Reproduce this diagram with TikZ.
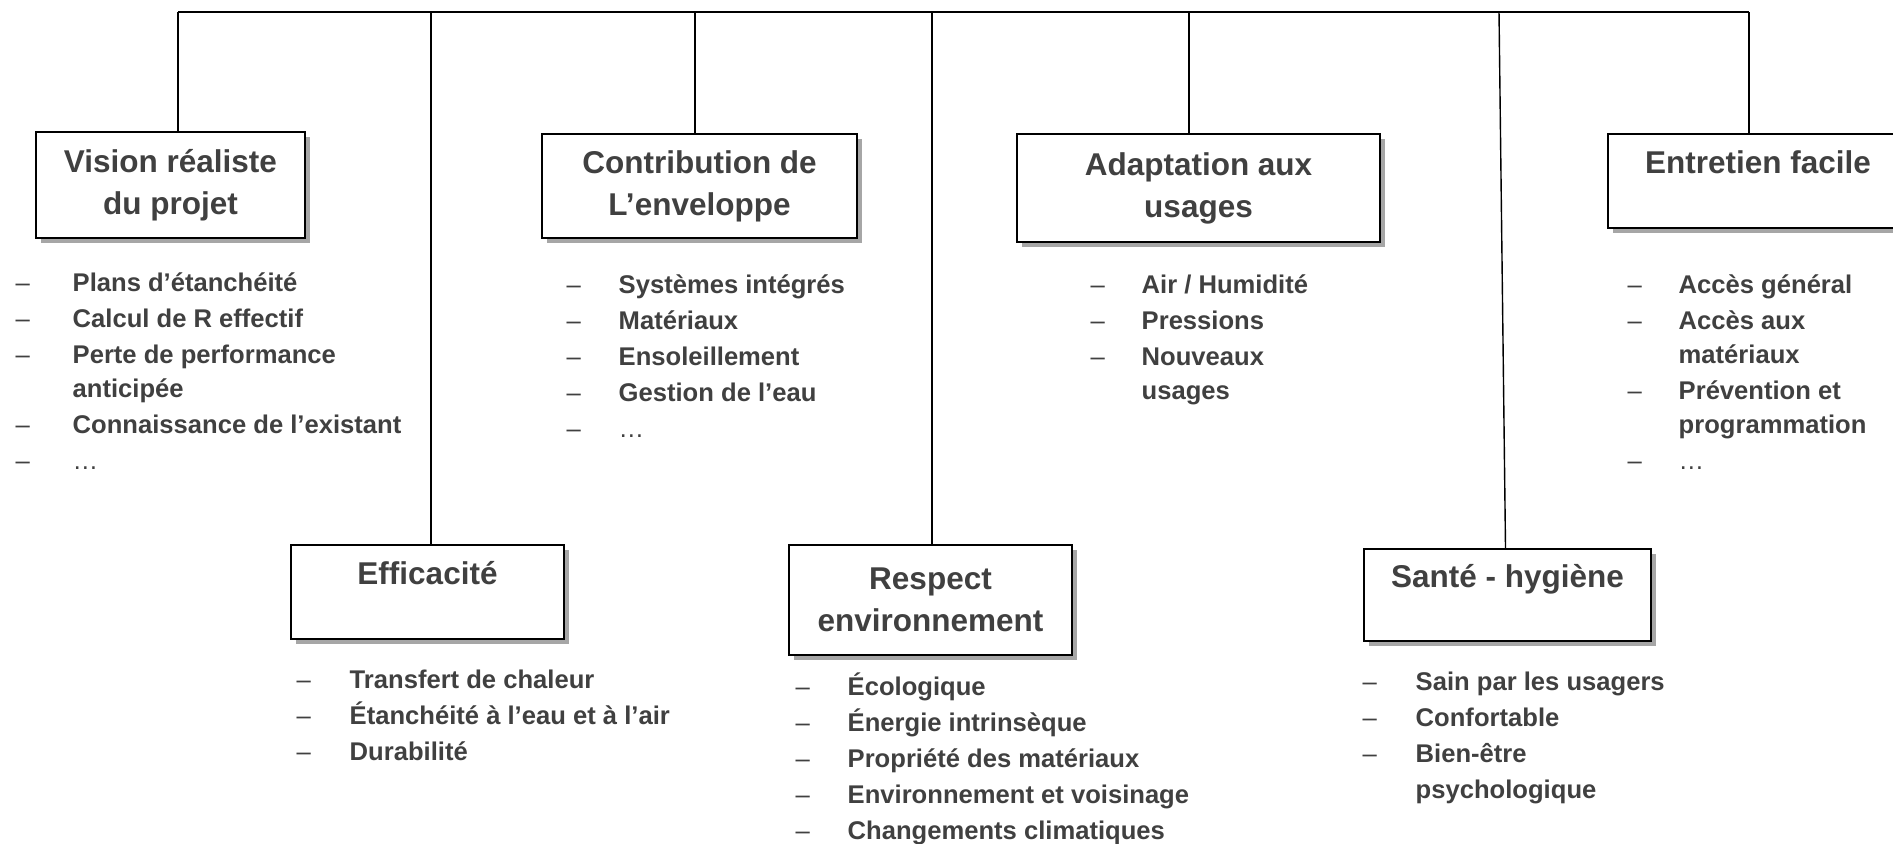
\documentclass[tikz,border=0pt]{standalone}
\usepackage{fontspec}
\setmainfont{Liberation Sans}
\usetikzlibrary{shadows}
\definecolor{txtgray}{HTML}{404040}
\newcommand{\tiret}{{\mdseries –}}

\begin{document}
\begin{tikzpicture}[
    x=0.5pt, y=-0.5pt,
    line width=0.7pt,
    box/.style={
      rectangle, draw=black, line width=1pt, fill=white,
      anchor=north west, inner sep=0pt, align=center,
      font=\fontsize{15.75}{21}\selectfont\bfseries, text=txtgray,
      drop shadow={shadow xshift=2.5pt, shadow yshift=-2.5pt,
        fill=gray!70, opacity=1},
    },
    lst/.style={anchor=base west, inner sep=0pt, text=txtgray,
      font=\fontsize{12.8}{18}\selectfont\bfseries},
  ]
  \useasboundingbox (0,0) rectangle (1893,843);
  \clip (0,0) rectangle (1893,843);

  \node[box, minimum width=134.5pt, minimum height=53pt] (vision) at (35,131)
    {Vision réaliste\\du projet};
  \node[box, minimum width=157.5pt, minimum height=52pt] (enveloppe) at (541,133)
    {Contribution de\\L’enveloppe};
  \node[box, minimum width=181.5pt, minimum height=54pt] (usages) at (1016,133)
    {Adaptation aux\\usages};
  \node[box, minimum width=150pt, minimum height=47pt] (entretien) at (1607,133)
    {Entretien facile\\[-2pt]~};
  \node[box, minimum width=136.5pt, minimum height=47pt] (efficacite) at (290,544)
    {Efficacité\\[-2pt]~};
  \node[box, minimum width=141.5pt, minimum height=55pt] (respect) at (788,544)
    {Respect\\environnement};
  \node[box, minimum width=143.5pt, minimum height=46pt] (sante) at (1363,548)
    {Santé - hygiène\\[-2pt]~};

  \coordinate (b1) at (178,12);
  \coordinate (b2) at (431,12);
  \coordinate (b3) at (695,12);
  \coordinate (b4) at (932,12);
  \coordinate (b5) at (1189,12);
  \coordinate (b6) at (1499,12);
  \coordinate (b7) at (1749,12);

  \draw (b1) -- (b7);
  \draw (b1) -- (b1 |- vision.north);
  \draw (b2) -- (b2 |- efficacite.north);
  \draw (b3) -- (b3 |- enveloppe.north);
  \draw (b4) -- (b4 |- respect.north);
  \draw (b5) -- (b5 |- usages.north);
  \draw (b6) -- ([xshift=-1pt]sante.north);
  \draw (b7) -- (b7 |- entretien.north);

  \node[lst] (l-vision) at (15,291) {\begin{tabular}[t]{@{}p{28.5pt}@{}l@{}}
    \tiret & Plans d’étanchéité\\
    \tiret & Calcul de R effectif\\
    \tiret & Perte de performance\\[-1pt]
           & anticipée\\
    \tiret & Connaissance de l’existant\\
    \tiret & \mdseries …
  \end{tabular}};
  \node[lst] (l-enveloppe) at (566,293) {\begin{tabular}[t]{@{}p{26pt}@{}l@{}}
    \tiret & Systèmes intégrés\\
    \tiret & Matériaux\\
    \tiret & Ensoleillement\\
    \tiret & Gestion de l’eau\\
    \tiret & \mdseries …
  \end{tabular}};
  \node[lst] (l-usages) at (1090,293) {\begin{tabular}[t]{@{}p{25.5pt}@{}l@{}}
    \tiret & Air / Humidité\\
    \tiret & Pressions\\
    \tiret & Nouveaux\\[-1pt]
           & usages
  \end{tabular}};
  \node[lst] (l-entretien) at (1627,293) {\begin{tabular}[t]{@{}p{25.5pt}@{}l@{}}
    \tiret & Accès général\\
    \tiret & Accès aux\\[-1pt]
           & matériaux\\
    \tiret & Prévention et\\[-1pt]
           & programmation\\
    \tiret & \mdseries …
  \end{tabular}};
  \node[lst] (l-efficacite) at (296,688) {\begin{tabular}[t]{@{}p{26.5pt}@{}l@{}}
    \tiret & Transfert de chaleur\\
    \tiret & Étanchéité à l’eau et à l’air\\
    \tiret & Durabilité
  \end{tabular}};
  \node[lst] (l-respect) at (795,695) {\begin{tabular}[t]{@{}p{26pt}@{}l@{}}
    \tiret & Écologique\\
    \tiret & Énergie intrinsèque\\
    \tiret & Propriété des matériaux\\
    \tiret & Environnement et voisinage\\
    \tiret & Changements climatiques
  \end{tabular}};
  \node[lst] (l-sante) at (1362,690) {\begin{tabular}[t]{@{}p{26.5pt}@{}l@{}}
    \tiret & Sain par les usagers\\
    \tiret & Confortable\\
    \tiret & Bien-être\\
           & psychologique
  \end{tabular}};
\end{tikzpicture}
\end{document}
